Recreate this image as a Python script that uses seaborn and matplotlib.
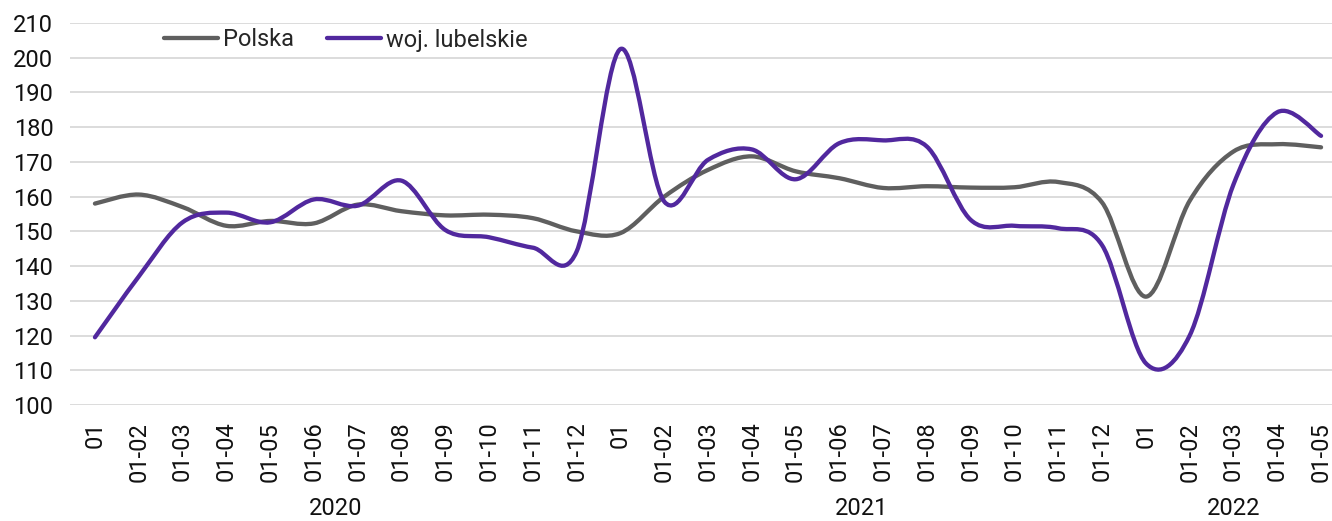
import numpy as np
import matplotlib
matplotlib.use("Agg")
import matplotlib.pyplot as plt
from matplotlib.path import Path
from matplotlib.patches import PathPatch
from matplotlib.lines import Line2D
import seaborn as sns

months = ["01", "01-02", "01-03", "01-04", "01-05", "01-06", "01-07", "01-08",
          "01-09", "01-10", "01-11", "01-12"]
tick_labels = months + months + months[:5]
years = ["2020", "2021", "2022"]
year_len = [12, 12, 5]

polska = [158, 160.6, 157, 151.6, 153, 152.3, 157.7, 155.8, 154.6, 154.8,
          153.8, 150, 149.5, 160, 167.7, 171.6, 167.3, 165.3, 162.5, 163,
          162.6, 162.7, 164.2, 158.3, 131.2, 158.8, 173, 175.1, 174.2]
lubelskie = [119.5, 137, 152.6, 155.4, 152.6, 159.2, 157.4, 164.6, 150.4, 148.3,
             145.3, 144.2, 202.5, 158.6, 170.6, 173.6, 165, 175.4, 176.2, 174.4,
             153.3, 151.6, 150.9, 146, 112, 120, 163.5, 184.3, 177.5]

series = [("Polska", polska, "#5f5f5f"), ("woj. lubelskie", lubelskie, "#51289e")]


def smooth_path(xs, ys):
    # excel-like smoothed line: catmull-rom turned into cubic bezier segments
    pts = np.column_stack([xs, ys]).astype(float)
    verts = [pts[0]]
    codes = [Path.MOVETO]
    n = len(pts)
    for i in range(n - 1):
        p0 = pts[i - 1] if i > 0 else pts[i]
        p1 = pts[i]
        p2 = pts[i + 1]
        p3 = pts[i + 2] if i + 2 < n else pts[i + 1]
        verts += [p1 + (p2 - p0) / 6, p2 - (p3 - p1) / 6, p2]
        codes += [Path.CURVE4] * 3
    return Path(verts, codes)


sns.set_theme(style="white")
plt.rcParams["font.family"] = ["Roboto", "DejaVu Sans"]
fs = 17

fig = plt.figure(figsize=(13.32, 5.21), dpi=100)
ax = fig.add_axes([70 / 1332, 1 - 405 / 521, 1 - 70 / 1332, (405 - 23) / 521])

x = np.arange(len(tick_labels))
handles = []
for name, vals, col in series:
    ax.add_patch(PathPatch(smooth_path(x, vals), facecolor="none", edgecolor=col,
                           lw=3.1, capstyle="round", joinstyle="round", zorder=3))
    handles.append(Line2D([0], [0], color=col, lw=3.1, solid_capstyle="round"))

ax.set_xlim(-0.57, 28.25)
ax.set_ylim(100, 210)
ax.set_yticks(range(100, 211, 10))
ax.yaxis.grid(True, color="#d9d9d9", lw=1.3)
ax.xaxis.grid(False)
for s in ax.spines.values():
    s.set_visible(False)

ax.set_xticks(x)
ax.set_xticklabels(tick_labels, rotation=90, fontsize=fs, color="#111111")
ax.tick_params(axis="x", length=0, pad=12)
ax.tick_params(axis="y", length=0, pad=12, labelsize=fs, labelcolor="#111111")

start = 0
for yr, ln in zip(years, year_len):
    center = start + (ln - 1) / 2
    ax.text(center, -0.272, yr, transform=ax.get_xaxis_transform(), ha="center",
            va="center", fontsize=fs, color="#111111")
    start += ln

ax.legend(handles, [s[0] for s in series], loc="center left",
          bbox_to_anchor=(164 / 1332, 1 - 40 / 521), bbox_transform=fig.transFigure,
          ncol=2, frameon=False, fontsize=fs, handlelength=2.3, handletextpad=0.2,
          columnspacing=1.4, borderaxespad=0, borderpad=0)

fig.savefig("out.png", dpi=100)
